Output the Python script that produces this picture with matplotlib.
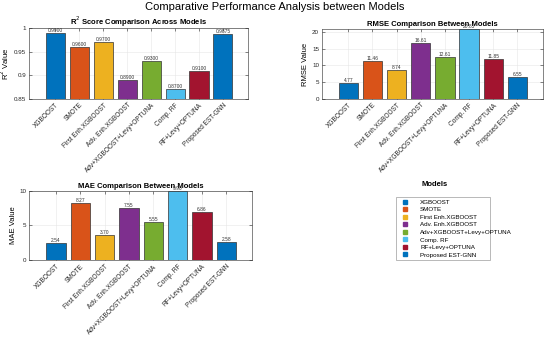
import matplotlib.pyplot as plt
import numpy as np
from matplotlib.lines import Line2D

models = ['XGBOOST', 'SMOTE', 'First Enh.XGBOOST', 'Adv. Enh.XGBOOST',
          'Adv+XGBOOST+Levy+OPTUNA', 'Comp. RF', 'RF+Levy+OPTUNA', 'Proposed EST-GNN']
r2 = [0.99, 0.96, 0.97, 0.89, 0.93, 0.87, 0.91, 0.9875]
rmse = [4.77, 11.46, 8.74, 16.61, 12.61, 20.85, 11.85, 6.55]
mae = [2.54, 8.27, 3.70, 7.55, 5.55, 9.90, 6.86, 2.58]
colors = ['#0072BD', '#D95319', '#EDB120', '#7E2F8E', '#77AC30', '#4DBEEE', '#A2142F', '#0072BD']

plt.rcParams['font.family'] = ['Liberation Sans', 'DejaVu Sans']

fig = plt.figure(figsize=(5.5, 3.39), dpi=100)
fig.suptitle('Comparative Performance Analysis between Models', fontsize=8, y=0.995)

def panel(rect, vals, fmt, title, ylabel, ylim, ticks, ticklabels):
    ax = fig.add_axes(rect)
    x = np.arange(len(vals))
    ax.bar(x, vals, width=0.8, color=colors, edgecolor='#333333', linewidth=0.5, zorder=3)
    for xi, v in zip(x, vals):
        ax.text(xi, v, fmt % v, ha='center', va='bottom', fontsize=3.5, color='#333333', zorder=4)
    ax.set_xlim(-1.1, len(vals) + 0.05)
    ax.set_ylim(*ylim)
    ax.set_yticks(ticks)
    ax.set_yticklabels(ticklabels)
    ax.set_xticks(x)
    ax.set_xticklabels(models, rotation=45, ha='right', rotation_mode='anchor')
    ax.tick_params(labelsize=4.5, direction='in', length=2, width=0.4, colors='#262626',
                   top=True, right=True, pad=2)
    ax.tick_params(axis='x', labelsize=4.7)
    ax.grid(True, color='#e6e6e6', linewidth=0.4, zorder=0)
    for s in ax.spines.values():
        s.set_color('#262626')
        s.set_linewidth(0.4)
    ax.set_title(title, fontsize=5.5, fontweight='bold', pad=2)
    ax.set_ylabel(ylabel, fontsize=5.5, labelpad=2)
    return ax

panel([0.053, 0.708, 0.398, 0.210], r2, '%.4f', 'R$^2$ Score Comparison Across Models',
      'R$^2$ Value', (0.85, 1.0), [0.85, 0.9, 0.95, 1.0], ['0.85', '0.9', '0.95', '1'])
panel([0.585, 0.708, 0.402, 0.206], rmse, '%.2f', 'RMSE Comparison Between Models',
      'RMSE Value', (0, 20.85), [0, 5, 10, 15, 20], ['0', '5', '10', '15', '20'])
panel([0.053, 0.232, 0.405, 0.206], mae, '%.2f', 'MAE Comparison Between Models',
      'MAE Value', (0, 10), [0, 5, 10], ['0', '5', '10'])

lax = fig.add_axes([0.715, 0.230, 0.182, 0.192])
lax.axis('off')
handles = [Line2D([], [], linestyle='none', marker='s', markersize=3, color=c) for c in colors]
leg = lax.legend(handles, models, loc='center', fontsize=4.5, frameon=True,
                 fancybox=False, edgecolor='#999999', handletextpad=1.5,
                 labelspacing=0.35, borderpad=0.3, mode='expand')
leg.get_frame().set_linewidth(0.6)
fig.text(0.79, 0.452, 'Models', fontsize=5.5, fontweight='bold', ha='center')

fig.savefig('out.png', dpi=100)
